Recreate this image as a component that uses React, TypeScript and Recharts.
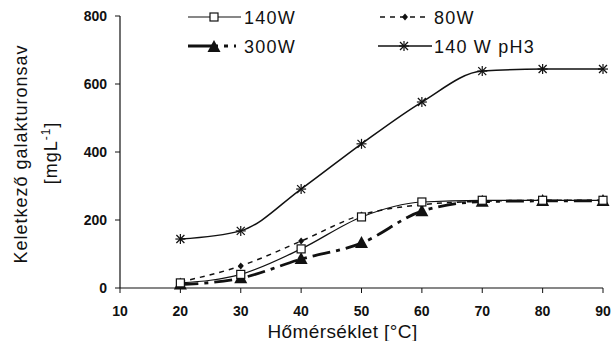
import React from 'react';
import { LineChart, Line, XAxis, YAxis, Label } from 'recharts';

const temps = [20, 30, 40, 50, 60, 70, 80, 90];
const w140 = [15, 40, 115, 209, 253, 258, 258, 258];
const w80 = [18, 65, 138, 215, 245, 255, 258, 258];
const w300 = [10, 29, 85, 132, 226, 254, 256, 256];
const ph3 = [144, 168, 291, 424, 547, 638, 644, 644];
const xTicks = [10, 20, 30, 40, 50, 60, 70, 80, 90];
const yTicks = [0, 200, 400, 600, 800];
const seriesNames = ['140W', '80W', '300W', '140 W pH3'];

const data = temps.map((t, i) => ({ t, w140: w140[i], w80: w80[i], w300: w300[i], ph3: ph3[i] }));

const FONT = '"Liberation Sans", Arial, sans-serif';

const Square = (p: any) => (
  <rect key={`s${p.index}`} x={p.cx - 4} y={p.cy - 4} width={8} height={8} fill="#fff" stroke="#111" strokeWidth={1.2} />
);
const Diamond = (p: any) => (
  <path key={`d${p.index}`} d={`M${p.cx},${p.cy - 3.5}L${p.cx + 3},${p.cy}L${p.cx},${p.cy + 3.5}L${p.cx - 3},${p.cy}Z`} fill="#111" />
);
const Tri = (p: any) => (
  <path key={`t${p.index}`} d={`M${p.cx},${p.cy - 7}L${p.cx + 6.5},${p.cy + 5}L${p.cx - 6.5},${p.cy + 5}Z`} fill="#111" />
);
const Star = (p: any) => (
  <g key={`a${p.index}`} stroke="#111" strokeWidth={1.2}>
    <line x1={p.cx - 5} y1={p.cy} x2={p.cx + 5} y2={p.cy} />
    <line x1={p.cx} y1={p.cy - 5} x2={p.cx} y2={p.cy + 5} />
    <line x1={p.cx - 4} y1={p.cy - 4} x2={p.cx + 4} y2={p.cy + 4} />
    <line x1={p.cx - 4} y1={p.cy + 4} x2={p.cx + 4} y2={p.cy - 4} />
  </g>
);

const YLabel = (props: any) => {
  const vb = props.viewBox || {};
  const cy = vb.y + vb.height / 2;
  return (
    <g>
      <text x={0} y={0} transform={`translate(27, ${cy + 2}) rotate(-90)`} textAnchor="middle" fontFamily={FONT} fontSize={18} letterSpacing={1} fill="#111">
        Keletkező galakturonsav
      </text>
      <text x={0} y={0} transform={`translate(57, ${cy + 1}) rotate(-90)`} textAnchor="middle" fontFamily={FONT} fontSize={18} letterSpacing={1} fill="#111">
        [mgL<tspan dy={-7} fontSize={12}>-1</tspan><tspan dy={7}>]</tspan>
      </text>
    </g>
  );
};

const LegendOverlay = () => (
  <svg width={612} height={60} style={{ position: 'absolute', left: 0, top: 0, pointerEvents: 'none' }}>
    <g fontFamily={FONT} fontSize={18} letterSpacing={1.2} fill="#111">
      <line x1={188} y1={17} x2={241} y2={17} stroke="#111" strokeWidth={1.2} />
      {Square({ cx: 214, cy: 17, index: 'l1' })}
      <text x={244} y={24}>{seriesNames[0]}</text>

      <line x1={380} y1={17} x2={430} y2={17} stroke="#111" strokeWidth={1.5} strokeDasharray="5 5" />
      {Diamond({ cx: 405, cy: 17, index: 'l2' })}
      <text x={434} y={24}>{seriesNames[1]}</text>

      <line x1={188} y1={46} x2={236} y2={46} stroke="#111" strokeWidth={2.8} strokeDasharray="30 6 4 6" />
      {Tri({ cx: 214, cy: 47, index: 'l3' })}
      <text x={244} y={53}>{seriesNames[2]}</text>

      <line x1={378} y1={46} x2={432} y2={46} stroke="#111" strokeWidth={1.5} />
      {Star({ cx: 404, cy: 46, index: 'l4' })}
      <text x={434} y={53}>{seriesNames[3]}</text>
    </g>
  </svg>
);

export default function App() {
  return (
    <div style={{ position: 'absolute', left: 0, top: 0, width: 612, height: 341, background: '#fff' }}>
      <LineChart width={612} height={341} data={data} margin={{ top: 16, right: 9, bottom: 0, left: 0 }}>
        <XAxis
          dataKey="t"
          type="number"
          domain={[10, 90]}
          ticks={xTicks}
          height={53}
          axisLine={{ stroke: '#111', strokeWidth: 1.2 }}
          tickLine={{ stroke: '#111' }}
          tickSize={5}
          tick={{ fill: '#111', fontSize: 14, fontWeight: 'bold', fontFamily: FONT }}
          tickMargin={13}
        >
          <Label value="Hőmérséklet [°C]" position="insideBottom" offset={3} dx={-19} style={{ fontFamily: FONT, fontSize: 19, letterSpacing: 0.4, fill: '#111' }} />
        </XAxis>
        <YAxis
          width={120}
          domain={[0, 800]}
          ticks={yTicks}
          axisLine={{ stroke: '#111', strokeWidth: 1.2 }}
          tickLine={{ stroke: '#111' }}
          tickSize={5}
          tick={{ fill: '#111', fontSize: 14, fontWeight: 'bold', fontFamily: FONT }}
          tickMargin={8}
        >
          <Label content={<YLabel />} />
        </YAxis>
        <Line type="monotone" dataKey="w80" stroke="#111" strokeWidth={1.5} strokeDasharray="5 5" dot={Diamond} activeDot={false} isAnimationActive={false} />
        <Line type="monotone" dataKey="w300" stroke="#111" strokeWidth={2.8} strokeDasharray="18 6 4 6" dot={Tri} activeDot={false} isAnimationActive={false} />
        <Line type="monotone" dataKey="w140" stroke="#111" strokeWidth={1.2} dot={Square} activeDot={false} isAnimationActive={false} />
        <Line type="monotone" dataKey="ph3" stroke="#111" strokeWidth={1.5} dot={Star} activeDot={false} isAnimationActive={false} />
      </LineChart>
      <LegendOverlay />
    </div>
  );
}
